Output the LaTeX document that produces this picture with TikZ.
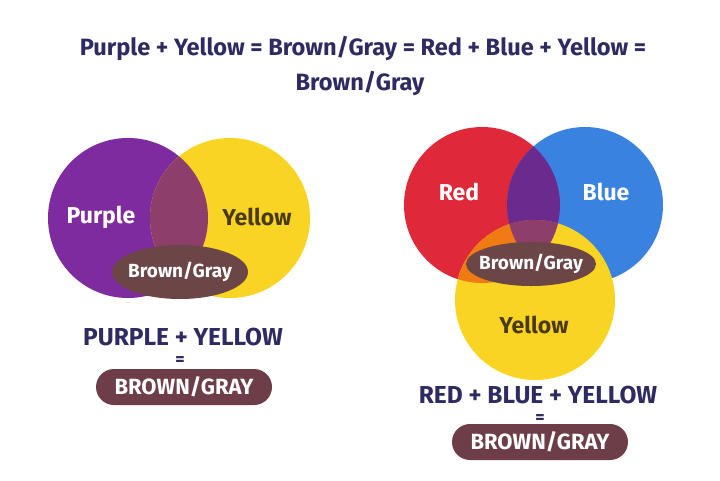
\documentclass[tikz,border=0pt]{standalone}
\usepackage{fontspec}
\setmainfont{Fira Sans}
\definecolor{navy}{HTML}{2E2A62}
\definecolor{cpurple}{HTML}{7F2BA0}
\definecolor{cyellow}{HTML}{F9D423}
\definecolor{cmauve}{HTML}{8E3E6A}
\definecolor{cbrown}{HTML}{6C4646}
\definecolor{cred}{HTML}{DF2838}
\definecolor{cblue}{HTML}{3A82E0}
\definecolor{cviolet}{HTML}{6A2A8E}
\definecolor{corange}{HTML}{F07A14}
\definecolor{cdarktxt}{HTML}{4A3A14}
\definecolor{cpill}{HTML}{6E3E48}
\tikzset{
  title/.style={font=\fontsize{23.6}{28}\selectfont\bfseries, text=navy},
  eqtxt/.style={font=\fontsize{24.5}{28}\selectfont\bfseries, text=navy, inner sep=0pt},
  eqsign/.style={font=\fontsize{18}{20}\selectfont\bfseries, text=navy, inner sep=0pt},
  lbl/.style={font=\fontsize{23}{26}\selectfont\bfseries},
  smallbl/.style={font=\fontsize{19}{22}\selectfont\bfseries, text=white},
  pill/.style={fill=cpill, rounded corners=18pt, minimum width=176pt, minimum height=36pt, text=white, font=\fontsize{22}{26}\selectfont\bfseries, inner sep=0pt}
}
\begin{document}
\begin{tikzpicture}[x=1pt,y=-1pt]
\useasboundingbox (0,0) rectangle (720,480);
\fill[white] (0,0) rectangle (720,480);
% title
\node[title] (t1) at (363,48) {Purple + Yellow = Brown/Gray = Red + Blue + Yellow =};
\node[title] (t2) at (360,83) {Brown/Gray};
% left venn
\fill[cpurple] (128,218) circle (80);
\fill[cyellow] (230,218) circle (80);
\begin{scope}
  \clip (128,218) circle (80);
  \fill[cmauve] (230,218) circle (80);
\end{scope}
\fill[cbrown] (180,272) ellipse (68 and 27);
\node[lbl, text=white] (lp) at (101,217) {Purple};
\node[lbl, text=cdarktxt] (ly) at (257,217) {Yellow};
\node[smallbl] (lb) at (180,272) {Brown/Gray};
% right venn
\fill[cred] (482,205) circle (78);
\fill[cblue] (585,205) circle (78);
\fill[cyellow] (535,300) circle (80);
\begin{scope}
  \clip (482,205) circle (78);
  \fill[cviolet] (585,205) circle (78);
  \fill[corange] (535,300) circle (80);
  \clip (585,205) circle (78);
  \fill[cmauve] (535,300) circle (80);
\end{scope}
\fill[cbrown] (531,264) ellipse (65 and 22);
\node[lbl, text=white] (rr) at (459,192) {Red};
\node[lbl, text=white] (rb) at (606,192) {Blue};
\node[lbl, text=cdarktxt] (ry) at (534,325) {Yellow};
\node[smallbl] (rbg) at (531,264) {Brown/Gray};
% bottom left equation
\node[eqtxt] (e1) at (183,337) {PURPLE + YELLOW};
\node[eqsign] (q1) at (180,361) {=};
\node[pill] (p1) at (184,387) {BROWN/GRAY};
% bottom right equation
\node[eqtxt] (e2) at (538,395) {RED + BLUE + YELLOW};
\node[eqsign] (q2) at (540,419) {=};
\node[pill] (p2) at (540,442) {BROWN/GRAY};
\end{tikzpicture}
\end{document}
